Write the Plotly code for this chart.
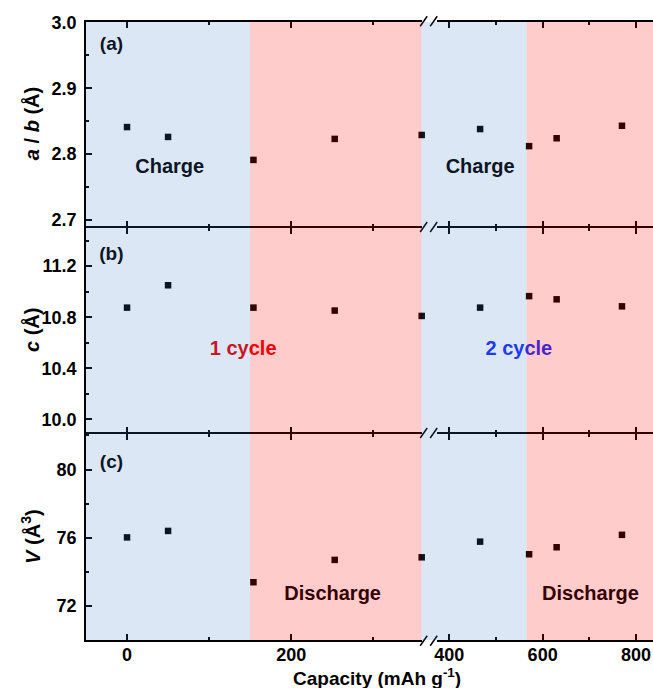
import plotly.graph_objects as go

# ---------------- data ----------------
capacity = [0, 50, 154, 253, 359, 466, 571, 630, 770]
a_b = [2.841, 2.826, 2.791, 2.823, 2.829, 2.838, 2.812, 2.824, 2.843]
c_par = [10.875, 11.05, 10.875, 10.852, 10.81, 10.875, 10.965, 10.94, 10.885]
volume = [76.02, 76.40, 73.39, 74.70, 74.85, 75.77, 75.03, 75.44, 76.17]

# charge / discharge regions (capacity, mAh g-1)
charge_regions = [(-100, 150), (359, 566)]
discharge_regions = [(150, 359), (566, 1000)]

BREAK = 359            # axis break value
x_left_range = [-50, 359]
x_right_range = [373.6, 836.5]

y_ranges = [[2.69, 3.001], [9.9, 11.5], [70, 82.1]]

panel_labels = ["(a)", "(b)", "(c)"]
y_titles = ["<b><i>a</i> / <i>b</i> (Å)</b>", "<b><i>c</i> (Å)</b>", "<b><i>V</i> (Å<sup>3</sup>)</b>"]

# ---------------- layout geometry ----------------
W, H = 653, 688
ML, MR, MT, MB = 86, 0, 22, 48
pw = W - ML - MR
ph = H - MT - MB
left_dom = [0, (421.7 - ML) / pw]
right_dom = [(437 - ML) / pw, 1]
LW = 1.5
# small gaps so that the shared boundary lines of neighbouring panels coincide
b1, b2 = 227, 433
y_doms = [[(640 - b1 + LW / 2) / ph, 1.0],
          [(640 - b2 + LW / 2) / ph, (640 - b1 - LW / 2) / ph],
          [0.0, (640 - b2 - LW / 2) / ph]]

FONT = "Liberation Sans"
BLACK = "#000000"
BLUE_OV = "rgb(60,120,200)"
RED_OV = "rgb(255,0,0)"

fig = go.Figure()

series = [a_b, c_par, volume]
for r in range(3):
    yname = "y" if r == 0 else f"y{r+1}"
    xl = "x" if r == 0 else f"x{2*r+1}"
    xr = f"x{2*r+2}"
    ys = series[r]
    lx = [c for c in capacity if c <= BREAK]
    ly = [v for c, v in zip(capacity, ys) if c <= BREAK]
    rx = [c for c in capacity if c > BREAK]
    ry = [v for c, v in zip(capacity, ys) if c > BREAK]
    for xx, yy, xa in [(lx, ly, xl), (rx, ry, xr)]:
        fig.add_trace(go.Scatter(x=xx, y=yy, xaxis=xa, yaxis=yname, mode="markers",
                                 marker=dict(symbol="square", size=6.5, color=BLACK,
                                             line=dict(width=0)),
                                 cliponaxis=False, showlegend=False, hoverinfo="skip"))

# text labels (drawn as text traces so the shaded regions tint them)
def add_text(txt, x, y, xa, ya, color, size=20):
    fig.add_trace(go.Scatter(x=[x], y=[y], xaxis=xa, yaxis=ya, mode="text", text=[txt],
                             textposition="middle center",
                             textfont=dict(family=FONT, size=size, color=color, weight="bold"),
                             cliponaxis=False, showlegend=False, hoverinfo="skip"))

add_text("Charge", 52, 2.779, "x", "y", BLACK)
add_text("Charge", 466, 2.779, "x2", "y", BLACK)
add_text("1 cycle", 141.5, 10.547, "x3", "y2", "rgb(235,0,0)")
add_text("2 cycle", 549, 10.547, "x4", "y2", "rgb(25,45,255)")
add_text("Discharge", 250.5, 72.64, "x5", "y3", BLACK)
add_text("Discharge", 702.5, 72.64, "x6", "y3", BLACK)
label_y = [2.965, 11.285, 80.35]
for r in range(3):
    yname = "y" if r == 0 else f"y{r+1}"
    xl = "x" if r == 0 else f"x{2*r+1}"
    add_text(panel_labels[r], -19, label_y[r], xl, yname, BLACK, size=19)

axis_common = dict(showline=True, linecolor=BLACK, linewidth=LW, ticks="inside",
                   tickcolor=BLACK, tickwidth=1.5, ticklen=6, showgrid=False, zeroline=False,
                   tickfont=dict(family=FONT, size=18, color=BLACK, weight="bold"))

ytick = [dict(tick0=2.7, dtick=0.1, tickformat=".1f", minor=0.05),
         dict(tick0=10.0, dtick=0.4, tickformat=".1f", minor=0.2),
         dict(tick0=72, dtick=4, tickformat="d", minor=2)]

layout = dict(width=W, height=H, margin=dict(l=ML, r=MR, t=MT, b=MB),
              paper_bgcolor="white", plot_bgcolor="white", showlegend=False)

for r in range(3):
    ykey = "yaxis" if r == 0 else f"yaxis{r+1}"
    yname = "y" if r == 0 else f"y{r+1}"
    xl_key = "xaxis" if r == 0 else f"xaxis{2*r+1}"
    xl = "x" if r == 0 else f"x{2*r+1}"
    xr_key = f"xaxis{2*r+2}"
    t = ytick[r]
    layout[ykey] = dict(axis_common, domain=y_doms[r], range=y_ranges[r], anchor=xl,
                        tick0=t["tick0"], dtick=t["dtick"], tickformat=t["tickformat"],
                        mirror=False, ticklabelstandoff=4,
                        minor=dict(ticks="inside", ticklen=3, tickwidth=1.5, tickcolor=BLACK,
                                   dtick=t["minor"], tick0=t["tick0"]))
    show_lbl = (r == 2)
    layout[xl_key] = dict(axis_common, domain=left_dom, range=x_left_range, anchor=yname,
                          tick0=0, dtick=200, mirror="ticks", showticklabels=show_lbl,
                          ticklabelstandoff=-2,
                          minor=dict(ticks="inside", ticklen=3, tickwidth=1.5, tickcolor=BLACK,
                                     dtick=100, tick0=0))
    layout[xr_key] = dict(axis_common, domain=right_dom, range=x_right_range, anchor=yname,
                          tick0=400, dtick=200, mirror="ticks", showticklabels=show_lbl,
                          ticklabelstandoff=-2,
                          minor=dict(ticks="inside", ticklen=3, tickwidth=1.5, tickcolor=BLACK,
                                     dtick=100, tick0=400))

fig.update_layout(**layout)

shapes = []
# axis-break marks "//" at each horizontal axis line
gap0, gap1 = left_dom[1], right_dom[0]
yb_list = [1.0 + 0.75 / ph, (640 - b1) / ph, (640 - b2) / ph, -0.75 / ph]
dx = 7 / pw
dy = 5 / ph
for yb in yb_list:
    for off in [0, 10 / pw]:
        x0 = gap0 - 1.5 / pw + off
        shapes.append(dict(type="line", xref="paper", yref="paper", x0=x0, y0=yb - dy,
                           x1=x0 + dx, y1=yb + dy, line=dict(color=BLACK, width=1.5),
                           layer="above"))

# translucent shading on top (tints markers, axes and labels like the original)
for xa in ["x", "x2"]:
    for (a, b) in charge_regions:
        shapes.append(dict(type="rect", xref=xa, yref="paper", x0=a, x1=b, y0=0, y1=1,
                           fillcolor=BLUE_OV, opacity=0.18, line=dict(width=0), layer="above"))
    for (a, b) in discharge_regions:
        shapes.append(dict(type="rect", xref=xa, yref="paper", x0=a, x1=b, y0=0, y1=1,
                           fillcolor=RED_OV, opacity=0.2, line=dict(width=0), layer="above"))
# break gap belongs to the 2nd charge region
shapes.append(dict(type="rect", xref="paper", yref="paper", x0=gap0, x1=gap1, y0=0, y1=1,
                   fillcolor=BLUE_OV, opacity=0.18, line=dict(width=0), layer="above"))

annotations = []
for r in range(3):
    annotations.append(dict(text=y_titles[r], xref="paper", yref="paper",
                            x=(31 - ML) / pw, y=sum(y_doms[r]) / 2, textangle=-90,
                            showarrow=False, xanchor="center", yanchor="middle",
                            font=dict(family=FONT, size=20, color=BLACK)))
annotations.append(dict(text="<b>Capacity (mAh g<sup>-1</sup>)</b>", xref="paper", yref="paper",
                        x=(377 - ML) / pw, y=-(677 - 640) / ph, showarrow=False,
                        xanchor="center", yanchor="middle",
                        font=dict(family=FONT, size=19, color=BLACK)))

fig.update_layout(shapes=shapes, annotations=annotations)
fig.write_html("out.html")
